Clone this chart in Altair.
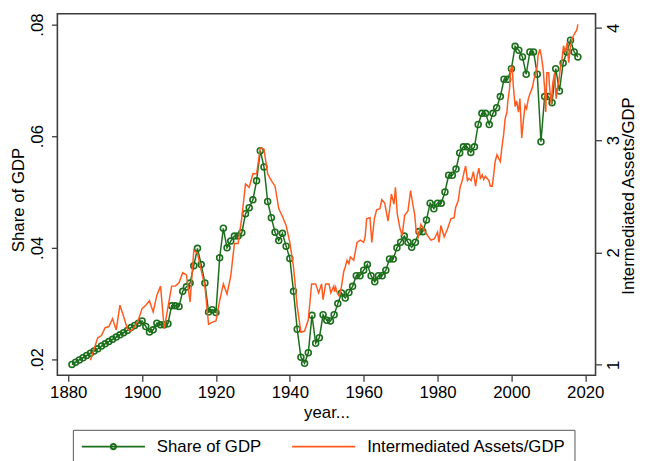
import altair as alt
import pandas as pd

# ---- data ----
share_years = list(range(1881, 2019))
share_values = [
    0.0191, 0.0195, 0.0199, 0.0203, 0.0207, 0.0211, 0.0215, 0.0219, 0.0224, 0.0228,  # 1881-1890
    0.0232, 0.0236, 0.0240, 0.0244, 0.0248, 0.0252, 0.0257, 0.0261, 0.0265, 0.0269,  # 1891-1900
    0.0259, 0.0249, 0.0253, 0.0265, 0.0262, 0.0262, 0.0264, 0.0296, 0.0296, 0.0295,  # 1901-1910
    0.0322, 0.0330, 0.0337, 0.0368, 0.0399, 0.0370, 0.0337, 0.0285, 0.0289, 0.0284,  # 1911-1920
    0.0382, 0.0435, 0.0400, 0.0412, 0.0421, 0.0421, 0.0427, 0.0461, 0.0472, 0.0486,  # 1921-1930
    0.0520, 0.0574, 0.0545, 0.0483, 0.0454, 0.0428, 0.0413, 0.0426, 0.0403, 0.0381,  # 1931-1940
    0.0322, 0.0254, 0.0204, 0.0193, 0.0212, 0.0279, 0.0229, 0.0239, 0.0280, 0.0270,  # 1941-1950
    0.0269, 0.0280, 0.0300, 0.0319, 0.0310, 0.0320, 0.0331, 0.0350, 0.0350, 0.0360,  # 1951-1960
    0.0370, 0.0350, 0.0339, 0.0350, 0.0350, 0.0360, 0.0380, 0.0380, 0.0400, 0.0410,  # 1961-1970
    0.0421, 0.0410, 0.0401, 0.0410, 0.0429, 0.0429, 0.0450, 0.0480, 0.0470, 0.0480,  # 1971-1980
    0.0480, 0.0500, 0.0530, 0.0530, 0.0541, 0.0570, 0.0581, 0.0581, 0.0571, 0.0581,  # 1981-1990
    0.0621, 0.0641, 0.0641, 0.0621, 0.0641, 0.0651, 0.0671, 0.0702, 0.0702, 0.0721,  # 1991-2000
    0.0761, 0.0754, 0.0742, 0.0711, 0.0751, 0.0751, 0.0711, 0.0590, 0.0671, 0.0671,  # 2001-2010
    0.0660, 0.0721, 0.0681, 0.0731, 0.0751, 0.0772, 0.0751, 0.0742,                  # 2011-2018
]

assets_years = [
    1886, 1887, 1888, 1889, 1890, 1891, 1892, 1893, 1894, 1895,
    1896, 1897, 1898, 1899, 1900, 1901, 1902, 1903, 1904, 1905,
    1906, 1907, 1908, 1909, 1910, 1911, 1912, 1913, 1914, 1915,
    1916, 1917, 1918, 1919, 1920, 1921, 1922, 1923, 1924, 1925,
    1926, 1927, 1928, 1929, 1930, 1931, 1932, 1933, 1934, 1935,
    1936, 1937, 1938, 1939, 1940, 1941, 1942, 1943, 1944, 1945,
    1945.9, 1946.5, 1947.0, 1947.8, 1948.6, 1949.0, 1949.7, 1950.6, 1951.1, 1951.9,
    1952.1, 1952.4, 1952.8, 1953.4, 1954.0, 1954.6, 1955.0, 1955.5, 1956.0, 1956.4,
    1957.3, 1958.2, 1959.1, 1960.0, 1960.4, 1960.8, 1961.7, 1962.2, 1962.9, 1963.5,
    1964.4, 1964.9, 1965.7, 1966.6, 1967.1, 1967.5, 1968.2, 1968.6, 1969.1, 1969.8,
    1970.4, 1971.1, 1972.0, 1972.7, 1973.3, 1973.8, 1974.2, 1974.8, 1975.5, 1976.4,
    1977.3, 1978.2, 1979.1, 1980.0, 1980.4, 1980.9, 1981.8, 1982.7, 1983.6, 1984.5,
    1984.9, 1985.6, 1986.1, 1986.7, 1987.2, 1987.6, 1988.1, 1988.5, 1989.1, 1989.7,
    1990.3, 1990.7, 1991.2, 1991.6, 1992.1, 1992.5, 1993.0, 1993.4, 1993.9, 1994.3,
    1994.8, 1995.2, 1995.6, 1996.1, 1996.5, 1997.0, 1997.4, 1997.9, 1998.3, 1998.8,
    1999.0, 1999.5, 1999.8, 2000.2, 2000.5, 2001.0, 2001.4, 2001.9, 2002.3, 2002.8,
    2003.2, 2003.7, 2004.1, 2004.6, 2005.0, 2005.7, 2006.1, 2006.6, 2007.0, 2007.2,
    2007.7, 2008.1, 2008.6, 2009.0, 2009.3, 2009.6, 2010.1, 2010.3, 2010.8, 2011.2,
    2011.7, 2012.1, 2012.6, 2012.8, 2013.2, 2013.7, 2014.1, 2014.6, 2015.1, 2015.5,
    2015.9, 2016.4, 2016.8, 2017.3, 2017.7, 2018.0,
]
assets_values = [
    1.04, 1.14, 1.24, 1.26, 1.33, 1.34, 1.41, 1.31, 1.53, 1.43,
    1.32, 1.30, 1.34, 1.40, 1.50, 1.53, 1.57, 1.47, 1.62, 1.70,
    1.32, 1.51, 1.70, 1.70, 1.73, 1.82, 1.80, 1.56, 2.02, 1.99,
    1.84, 1.70, 1.36, 1.38, 1.39, 1.57, 1.72, 1.63, 1.79, 2.08,
    2.08, 2.31, 2.61, 2.58, 2.70, 2.70, 2.93, 2.92, 2.70, 2.64,
    2.59, 2.39, 2.32, 2.24, 2.09, 1.87, 1.52, 1.29, 1.30, 1.40,
    1.72, 1.72, 1.72, 1.64, 1.72, 1.58, 1.72, 1.72, 1.64, 1.70,
    1.65, 1.69, 1.645, 1.61, 1.70, 1.83, 1.87, 1.93, 1.90, 1.96,
    1.93, 2.09, 2.11, 2.09, 2.14, 2.30, 2.31, 2.09, 2.30, 2.38,
    2.39, 2.47, 2.44, 2.28, 2.40, 2.52, 2.43, 2.58, 2.34, 2.22,
    2.15, 2.33, 2.37, 2.55, 2.43, 2.34, 2.20, 2.14, 2.25, 2.20,
    2.15, 2.11, 2.12, 2.18, 2.09, 2.24, 2.14, 2.21, 2.30, 2.31,
    2.40, 2.46, 2.58, 2.64, 2.72, 2.77, 2.64, 2.66, 2.64, 2.72,
    2.59, 2.68, 2.75, 2.66, 2.69, 2.65, 2.68, 2.66, 2.64, 2.59,
    2.59, 2.69, 2.81, 2.87, 2.84, 2.81, 2.93, 3.05, 3.19, 3.25,
    3.34, 3.46, 3.63, 3.66, 3.49, 3.30, 3.35, 3.25, 3.37, 3.02,
    3.16, 3.31, 3.28, 3.37, 3.41, 3.47, 3.54, 3.60, 3.66, 3.75,
    3.81, 3.75, 3.63, 3.46, 3.25, 3.60, 3.60, 3.49, 3.31, 3.51,
    3.60, 3.37, 3.49, 3.51, 3.63, 3.72, 3.84, 3.78, 3.87, 3.69,
    3.81, 3.90, 3.93, 3.96, 3.98, 4.03,
]

x_ticks = [1880, 1900, 1920, 1940, 1960, 1980, 2000, 2020]
left_ticks = [0.02, 0.04, 0.06, 0.08]
right_ticks = [1, 2, 3, 4]

S1 = "Share of GDP"
S2 = "Intermediated Assets/GDP"
series_names = [S1, S2]
series_colors = ["#1b6e1b", "#ff5a1f"]

# ---- chart ----
FONT = "Liberation Sans"
FS = 17
FRAME = "#3c3c3c"

df1 = pd.DataFrame({"year": share_years, "share": share_values, "series": S1})
df2 = pd.DataFrame({"year": assets_years, "assets": assets_values, "series": S2})

x_enc = alt.X(
    "year:Q",
    scale=alt.Scale(domain=[1877.06, 2022.78], nice=False, zero=False),
    axis=alt.Axis(values=x_ticks, format="d", title="year...", tickSize=6,
                  labelPadding=4, titlePadding=4),
)

legend = alt.Legend(
    title=None, orient="none", legendX=15.7, legendY=421.3, direction="horizontal",
    symbolSize=4096, symbolStrokeWidth=2, clipHeight=18,
    labelFontSize=FS, labelFont=FONT, labelLimit=400,
    labelColor="black", labelOffset=11, columnPadding=30, padding=8,
    strokeColor="#555555", fillColor="white",
    labelExpr="datum.label == 'Intermediated Assets/GDP' ? datum.label + '\u00a0\u00a0' : datum.label",
)
color_enc = alt.Color("series:N", scale=alt.Scale(domain=series_names, range=series_colors), legend=legend)
shape_enc = alt.Shape(
    "series:N",
    scale=alt.Scale(
        domain=series_names,
        range=["M-1,0L1,0M0.085,0A0.085,0.085,0,1,1,-0.085,0A0.085,0.085,0,1,1,0.085,0", "M-1,0L1,0"],
    ),
    legend=legend,
)

y_left = alt.Y(
    "share:Q",
    scale=alt.Scale(domain=[0.01717, 0.08193], nice=False, zero=False),
    axis=alt.Axis(values=left_ticks, labelExpr="replace(format(datum.value, '.2f'), '0.', '.')",
                  labelAngle=270, title="Share of GDP", orient="left", tickSize=6,
                  labelPadding=5, titleAngle=270, titleBaseline="alphabetic",
                  titleX=-34, titleY=188, titleAlign="center"),
)
y_right = alt.Y(
    "assets:Q",
    scale=alt.Scale(domain=[0.9067, 4.125], nice=False, zero=False),
    axis=alt.Axis(values=right_ticks, format="d", labelAngle=270, title=S2, orient="right",
                  tickSize=6, labelPadding=4, titleAngle=270, titleBaseline="alphabetic",
                  titleX=38.5, titleY=184, titleAlign="center"),
)

green_line = alt.Chart(df1).mark_line(strokeWidth=1.5).encode(x=x_enc, y=y_left, color=color_enc)
green_pts = alt.Chart(df1).mark_point(filled=False, shape="circle", size=36, strokeWidth=1.6, opacity=1).encode(
    x=x_enc, y=y_left, color=color_enc
)
# legend-only layer (no rows) that carries the per-series legend symbols
legend_keys = alt.Chart(df1).transform_filter("false").mark_point(filled=False, strokeWidth=2, opacity=1).encode(
    x=x_enc, y=y_left, color=color_enc, shape=shape_enc
)
orange_line = alt.Chart(df2).mark_line(strokeWidth=1.5).encode(x=x_enc, y=y_right, color=color_enc)

chart = (
    alt.layer(alt.layer(green_line, green_pts, legend_keys), orange_line)
    .resolve_scale(y="independent")
    .properties(
        width=545, height=366,
        padding={"left": 50, "top": 3, "right": 43, "bottom": 85},
        autosize=alt.AutoSizeParams(type="none"),
        background="white",
    )
    .configure_view(stroke=FRAME, strokeWidth=1.6)
    .configure_axis(
        domain=False, grid=False, tickColor=FRAME, tickWidth=1.3,
        labelFont=FONT, labelFontSize=FS, labelColor="black",
        titleFont=FONT, titleFontSize=FS, titleColor="black", titleFontWeight="normal",
    )
)

chart.save("out.html", embed_options={"renderer": "svg", "actions": False})
